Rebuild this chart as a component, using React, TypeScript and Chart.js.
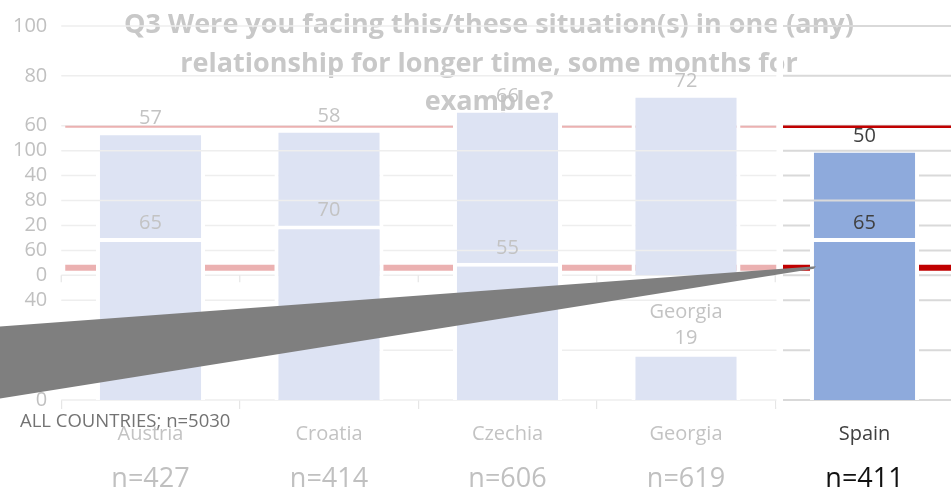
import React, { useEffect, useRef } from "react";
import { Chart, registerables } from "chart.js";

Chart.register(...registerables);

// ---------- data ----------
const COUNTRIES = ["Austria", "Croatia", "Czechia", "Georgia", "Spain"];
const SAMPLE_SIZES = ["n=427", "n=414", "n=606", "n=619", "n=411"];
const SERIES_UPPER = [57, 58, 66, 72, 50];
const SERIES_LOWER = [65, 70, 55, 19, 65];
const LOWER_LABEL_PREFIX = ["", "", "", "Georgia", ""];
const AVERAGE_UPPER = 59.6;
const AVERAGE_LOWER = 53;
const TICKS_UPPER = [0, 20, 40, 60, 80, 100];
const TICKS_LOWER = [0, 20, 40, 60, 80, 100];
const UPPER_OFFSET = 50; // upper panel's 0 sits at 50 on the lower panel's scale
const TITLE_LINES = [
  "Q3 Were you facing this/these situation(s) in one (any)",
  "relationship for longer time, some months for",
  "example?",
];
const FOOTNOTE = "ALL COUNTRIES; n=5030";
const HIGHLIGHT_INDEX = 4;

// ---------- styles ----------
const FONT = '"Open Sans"';
const FADED_BAR = "#dde3f3";
const DARK_BAR = "#8eaadc";
const FADED_TEXT = "#c3c3c3";
const DARK_TEXT = "#404040";
const FADED_GRID = "#eeeeee";
const DARK_GRID = "#d9d9d9";
const FADED_RED = "#ebb1b1";
const DARK_RED = "#c00000";

const Y_TICK_VALUES: number[] = [];
const Y_TICK_LABELS: Record<string, string> = {};
TICKS_LOWER.forEach((v) => {
  Y_TICK_VALUES.push(v);
  Y_TICK_LABELS[String(v)] = String(v);
});
TICKS_UPPER.forEach((v) => {
  const pos = v + UPPER_OFFSET;
  if (!Y_TICK_VALUES.includes(pos)) Y_TICK_VALUES.push(pos);
  Y_TICK_LABELS[String(pos)] = String(v);
});
Y_TICK_VALUES.sort((a, b) => a - b);

function hline(ctx: CanvasRenderingContext2D, x1: number, x2: number, y: number, color: string, w: number) {
  ctx.beginPath();
  ctx.strokeStyle = color;
  ctx.lineWidth = w;
  ctx.moveTo(x1, y);
  ctx.lineTo(x2, y);
  ctx.stroke();
}

function stripBounds(chart: any) {
  const x = chart.scales.x;
  const l = x.getPixelForValue(HIGHLIGHT_INDEX - 0.5) + 1.25;
  return { l, r: l + 6.5 };
}

const overlayPlugin = {
  id: "overlay",
  beforeDatasetsDraw(chart: any) {
    const { ctx, chartArea: ca, scales } = chart;
    const yA = scales.yA;
    const yB = scales.y;
    const x = scales.x;
    const { l: sL, r: sR } = stripBounds(chart);
    ctx.save();
    // title
    ctx.font = `bold 27px ${FONT}`;
    ctx.fillStyle = "#c8c8c8";
    ctx.textAlign = "center";
    ctx.textBaseline = "alphabetic";
    TITLE_LINES.forEach((t, i) => ctx.fillText(t, 489, 33 + i * 38.5));
    // upper panel gridlines
    TICKS_UPPER.forEach((v) => {
      const py = yA.getPixelForValue(v);
      hline(ctx, ca.left, sL, py, FADED_GRID, 1.5);
      hline(ctx, sR, ca.right, py, DARK_GRID, 2);
    });
    // upper panel axis tick marks
    const y0 = yA.getPixelForValue(0);
    for (let i = 0; i <= COUNTRIES.length; i++) {
      const px = x.getPixelForValue(i - 0.5);
      ctx.beginPath();
      ctx.strokeStyle = i === COUNTRIES.length ? DARK_GRID : "#e6e6e6";
      ctx.lineWidth = 1.2;
      ctx.moveTo(px, y0);
      ctx.lineTo(px, y0 + 7);
      ctx.stroke();
    }
    // average lines
    const ra = yA.getPixelForValue(AVERAGE_UPPER);
    hline(ctx, ca.left + 4, sL, ra, FADED_RED, 2);
    hline(ctx, sR, ca.right, ra, DARK_RED, 2.5);
    const rb = yB.getPixelForValue(AVERAGE_LOWER);
    hline(ctx, ca.left + 4, sL, rb, FADED_RED, 6);
    hline(ctx, sR, ca.right, rb, DARK_RED, 6);
    // white separation strip
    ctx.fillStyle = "#ffffff";
    ctx.fillRect(sL, 0, sR - sL, ca.bottom + 7);
    ctx.restore();
  },
  afterDatasetDraw(chart: any, args: any) {
    if (args.index !== 1) return;
    const { ctx, chartArea: ca, scales } = chart;
    const yB = scales.y;
    const { l: sL, r: sR } = stripBounds(chart);
    ctx.save();
    TICKS_LOWER.forEach((v) => {
      const py = yB.getPixelForValue(v);
      hline(ctx, ca.left, sL, py, FADED_GRID, 1.5);
      hline(ctx, sR, ca.right, py, DARK_GRID, 2);
    });
    ctx.restore();
  },
  afterDatasetsDraw(chart: any) {
    const { ctx, chartArea: ca, scales } = chart;
    const yB = scales.y;
    ctx.save();
    ctx.font = `20px ${FONT}`;
    ctx.textAlign = "center";
    ctx.textBaseline = "alphabetic";
    // labels of both panels
    [0, 1].forEach((di) => {
      const meta = chart.getDatasetMeta(di);
      const values = di === 0 ? SERIES_LOWER : SERIES_UPPER;
      meta.data.forEach((bar: any, i: number) => {
        ctx.fillStyle = i === HIGHLIGHT_INDEX ? DARK_TEXT : FADED_TEXT;
        const base = bar.y - 16 + 7;
        ctx.fillText(String(values[i]), bar.x, base);
        if (di === 0 && LOWER_LABEL_PREFIX[i]) {
          ctx.fillText(LOWER_LABEL_PREFIX[i], bar.x, base - 26);
        }
      });
    });
    // callout wedge
    const sBar = chart.getDatasetMeta(0).data[HIGHLIGHT_INDEX];
    const tipX = sBar.x - sBar.width / 2 + 6;
    const tipY = yB.getPixelForValue(AVERAGE_LOWER) - 1.5;
    ctx.beginPath();
    ctx.moveTo(0, ca.bottom - 73.5);
    ctx.lineTo(tipX, tipY);
    ctx.lineTo(tipX - 2, tipY + 2.5);
    ctx.lineTo(0, ca.bottom - 1.5);
    ctx.closePath();
    ctx.fillStyle = "#7f7f7f";
    ctx.fill();
    // footnote
    ctx.font = `18.5px ${FONT}`;
    ctx.textAlign = "left";
    ctx.fillStyle = "#737373";
    ctx.fillText(FOOTNOTE, 20, ca.bottom + 26.7);
    ctx.restore();
  },
};

export default function App() {
  const ref = useRef<HTMLCanvasElement | null>(null);
  useEffect(() => {
    if (!ref.current) return;
    const colors = COUNTRIES.map((_, i) => (i === HIGHLIGHT_INDEX ? DARK_BAR : FADED_BAR));
    const chart = new Chart(ref.current, {
      type: "bar",
      data: {
        labels: COUNTRIES,
        datasets: [
          {
            label: "lower",
            data: SERIES_LOWER,
            yAxisID: "y",
            xAxisID: "x",
            grouped: false,
            backgroundColor: colors,
            borderColor: "#ffffff",
            borderWidth: { top: 4, left: 4, right: 4, bottom: 0 },
            barPercentage: 0.611,
            categoryPercentage: 1,
          } as any,
          {
            label: "upper",
            data: SERIES_UPPER,
            yAxisID: "yA",
            xAxisID: "x",
            grouped: false,
            backgroundColor: colors,
            borderColor: "#ffffff",
            borderWidth: { top: 2, left: 4, right: 4, bottom: 0 },
            barPercentage: 0.611,
            categoryPercentage: 1,
          } as any,
        ],
      },
      options: {
        responsive: false,
        animation: false,
        events: [],
        layout: { padding: { top: 25, right: 6.25, left: 0, bottom: 0 } },
        plugins: {
          legend: { display: false },
          tooltip: { enabled: false },
          title: { display: false },
        },
        scales: {
          x: {
            position: "bottom",
            weight: 0,
            offset: true,
            grid: {
              display: true,
              drawOnChartArea: false,
              drawTicks: true,
              tickLength: 9,
              offset: true,
              color: "#e6e6e6",
              lineWidth: 1.2,
            },
            border: { display: false },
            ticks: {
              font: { family: "Open Sans", size: 20 },
              color: (c: any) => (c.index === HIGHLIGHT_INDEX ? DARK_TEXT : FADED_TEXT),
              padding: 13,
              maxRotation: 0,
              autoSkip: false,
            },
            afterFit: (s: any) => {
              s.height = 50;
            },
          },
          x2: {
            type: "category",
            labels: SAMPLE_SIZES,
            position: "bottom",
            weight: 1,
            offset: true,
            grid: { display: false, drawTicks: false },
            border: { display: false },
            ticks: {
              font: { family: "Open Sans", size: 27 },
              color: (c: any) => (c.index === HIGHLIGHT_INDEX ? "#111111" : "#c0c0c0"),
              padding: 13,
              maxRotation: 0,
              autoSkip: false,
            },
            afterFit: (s: any) => {
              s.height = 42;
            },
          },
          y: {
            position: "left",
            min: 0,
            max: 150,
            grid: { display: false, drawTicks: false },
            border: { display: false },
            ticks: {
              autoSkip: false,
              padding: 14,
              font: { family: "Open Sans", size: 20 },
              color: "#c0c0c0",
              callback: (v: any) => Y_TICK_LABELS[String(v)] ?? "",
            },
            afterBuildTicks: (s: any) => {
              s.ticks = Y_TICK_VALUES.map((v) => ({ value: v }));
            },
            afterFit: (s: any) => {
              s.width = 61.25;
            },
          },
          yA: {
            display: false,
            position: "left",
            min: -UPPER_OFFSET,
            max: 100,
          },
        },
      } as any,
      plugins: [overlayPlugin],
    });
    return () => chart.destroy();
  }, []);

  return (
    <div style={{ position: "absolute", left: 0, top: 0, width: 951, height: 492, overflow: "hidden", background: "#fff" }}>
      <canvas ref={ref} width={960} height={492} style={{ width: 960, height: 492, display: "block" }} />
    </div>
  );
}
